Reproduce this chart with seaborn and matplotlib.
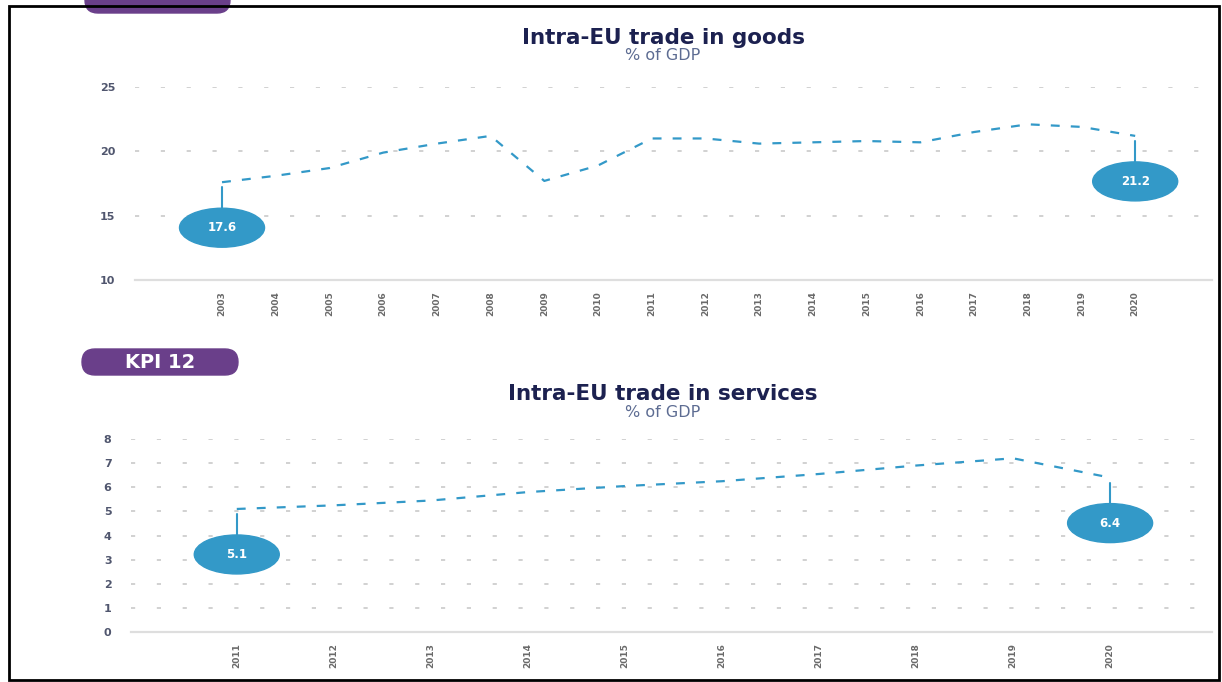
import numpy as np
import pandas as pd
import matplotlib
matplotlib.use("Agg")
import matplotlib.pyplot as plt
import matplotlib.transforms as mtransforms
from matplotlib.patches import Ellipse, FancyBboxPatch, Rectangle
from matplotlib.lines import Line2D
import seaborn as sns

# data
goods_years = list(range(2003, 2021))
goods_values = [17.6, 18.1, 18.7, 19.9, 20.6, 21.2, 17.7, 18.9, 21.0, 21.0,
                20.6, 20.7, 20.8, 20.7, 21.5, 22.1, 21.9, 21.2]
services_years = list(range(2011, 2021))
services_values = [5.1, 5.25, 5.45, 5.8, 6.05, 6.25, 6.55, 6.9, 7.2, 6.4]

goods_title = "Intra-EU trade in goods"
services_title = "Intra-EU trade in services"
subtitle = "% of GDP"
kpi_label = "KPI 12"

BLUE = "#3399c8"
NAVY = "#1c2150"
SUB = "#5d6c92"
PURPLE = "#6a3f8a"
GRID = "#c9c9c9"
TICK = "#50566e"

sns.set_theme(style="white")
plt.rcParams['font.family'] = ['DejaVu Sans']

W, H = 1222, 682
fig = plt.figure(figsize=(W / 100, H / 100), dpi=100)

# overlay in pixel units for titles, pills and the frame
over = fig.add_axes([0, 0, 1, 1], zorder=5)
over.set_xlim(0, W)
over.set_ylim(H, 0)
over.axis("off")
over.patch.set_alpha(0)


def px_axes(x0, x1, y_top, y_bot):
    return fig.add_axes([x0 / W, 1 - y_bot / H, (x1 - x0) / W, (y_bot - y_top) / H])


def style_axes(ax, yticks, xlim, years):
    ax.set_ylim(yticks[0], yticks[-1])
    ax.set_xlim(*xlim)
    ax.set_yticks(yticks)
    ax.set_xticks(years)
    ax.set_xticklabels([str(y) for y in years], rotation=90, fontsize=6.5,
                       color="#6a6a6a", fontweight="bold")
    ax.set_yticklabels([str(t) for t in yticks], fontsize=8, color=TICK,
                       fontweight="bold")
    ax.tick_params(axis="both", length=0)
    ax.tick_params(axis="x", pad=8)
    ax.tick_params(axis="y", pad=14)
    for s in ["left", "right", "top"]:
        ax.spines[s].set_visible(False)
    ax.spines["bottom"].set_color("#dedede")
    ax.spines["bottom"].set_linewidth(1.6)
    for t in yticks[1:]:
        ax.axhline(t, color=GRID, lw=1.2, ls=(0, (2.5, 13)), zorder=0)
    ax.set_xlabel("")
    ax.set_ylabel("")


def bubble(ax, x, y, label):
    tr = fig.dpi_scale_trans + mtransforms.ScaledTranslation(x, y, ax.transData)
    ax.add_line(Line2D([0, 0], [-0.05, -0.26], transform=tr, color=BLUE, lw=1.5))
    ax.add_patch(Ellipse((0, -0.455), 0.85, 0.39, transform=tr, color=BLUE,
                         clip_on=False, zorder=5))
    ax.text(0, -0.455, label, transform=tr, ha="center", va="center",
            color="white", fontsize=8.5, fontweight="bold", zorder=6)


# top chart
ax1 = px_axes(135, 1212, 87, 280)
sns.lineplot(x=goods_years, y=goods_values, ax=ax1, color=BLUE, lw=1.6,
             linestyle=(0, (4, 5)))
style_axes(ax1, [10, 15, 20, 25], (2001.38, 2021.43), goods_years)
bubble(ax1, goods_years[0], goods_values[0], f"{goods_values[0]:.1f}")
bubble(ax1, goods_years[-1], goods_values[-1], f"{goods_values[-1]:.1f}")

# bottom chart
ax2 = px_axes(131, 1212, 439, 632)
sns.lineplot(x=services_years, y=services_values, ax=ax2, color=BLUE, lw=1.6,
             linestyle=(0, (4, 5)))
style_axes(ax2, list(range(0, 9)), (2009.91, 2021.05), services_years)
bubble(ax2, services_years[0], services_values[0], f"{services_values[0]:.1f}")
bubble(ax2, services_years[-1], services_values[-1], f"{services_values[-1]:.1f}")

# titles
for (yt, ys, title) in [(44, 60, goods_title), (400, 417, services_title)]:
    over.text(663, yt, title, ha="center", va="baseline",
              fontsize=15.5, fontweight="bold", color=NAVY)
    over.text(663, ys, subtitle, ha="center", va="baseline",
              fontsize=11.5, color=SUB)

# KPI pills (the top one is cut off by the page edge)
for (x0, x1, yc, label) in [(85, 230, 0, None), (82, 238, 362, kpi_label)]:
    h = 26
    over.add_patch(FancyBboxPatch((x0, yc - h / 2), x1 - x0, h,
                                  boxstyle="round,pad=0,rounding_size=13",
                                  color=PURPLE, clip_on=True))
    if label:
        over.text((x0 + x1) / 2, yc + 1, label, ha="center", va="center",
                  fontsize=14, fontweight="bold", color="white")

# frame
over.add_patch(Rectangle((9, 6), 1210, 674, fill=False,
                         edgecolor="black", lw=2))

fig.savefig("out.png", dpi=100)
